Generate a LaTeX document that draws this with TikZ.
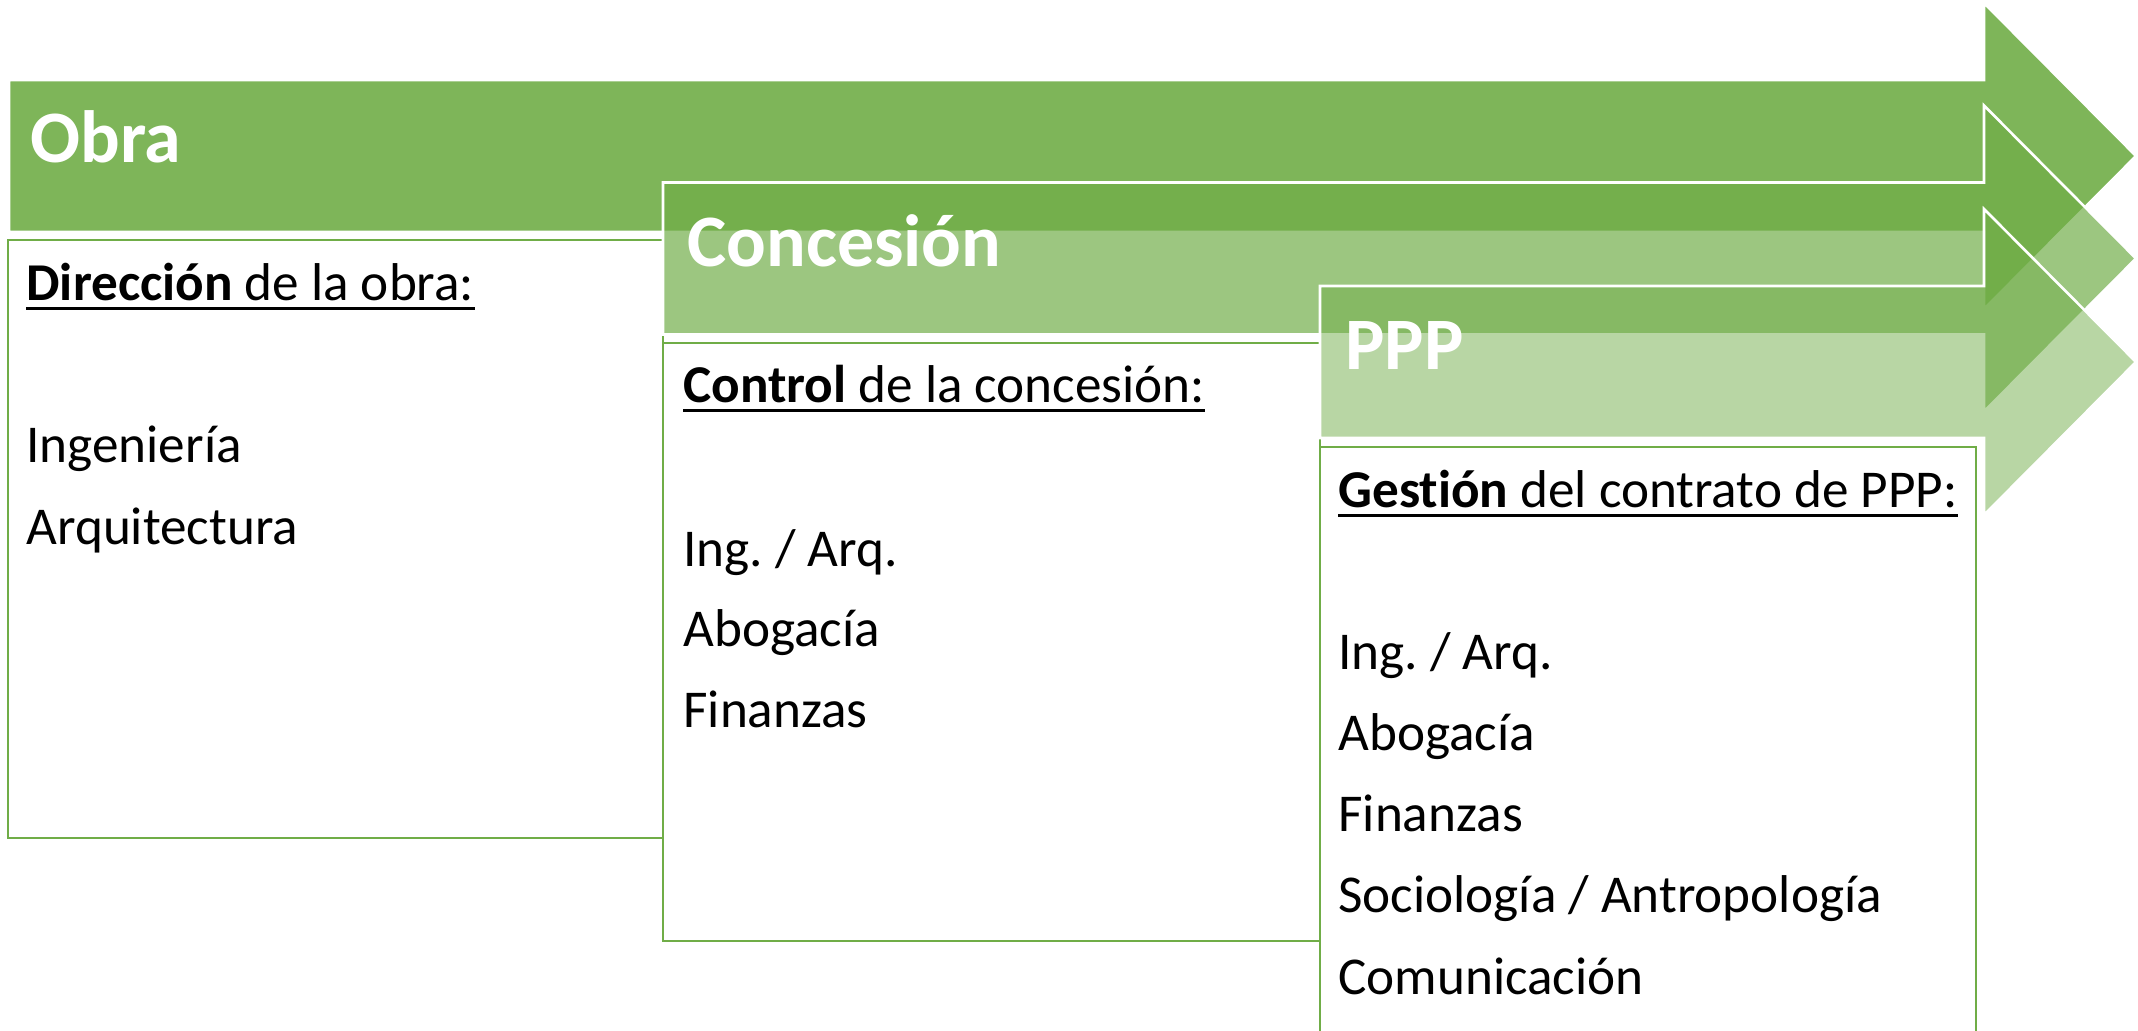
\documentclass[tikz,border=0pt]{standalone}
\usepackage{fontspec}
\setmainfont{Carlito}[Ligatures=NoCommon]
\definecolor{grn}{RGB}{112,173,71}
\newcommand\grarrow[3]{% left x, centre y, opacity
  \filldraw[fill=grn, fill opacity=#3, draw=white, line width=1.3pt, line join=miter]
    (#1,#2-76) -- (1984,#2-76) -- (1984,#2-153) -- (2136,#2) -- (1984,#2+153)
    -- (1984,#2+76) -- (#1,#2+76) -- cycle;}
\tikzset{
  boxframe/.style={draw=grn, fill=white, line width=1.2pt},
  headtxt/.style={anchor=base west, inner sep=0pt, text=white,
    font=\fontsize{37pt}{44pt}\selectfont\bfseries},
  bodytxt/.style={anchor=base west, inner sep=0pt, text=black,
    font=\fontsize{26.6pt}{31pt}\selectfont},
  uline/.style={line width=1.5pt, black}
}
\begin{document}
\frenchspacing
\begin{tikzpicture}[x=0.5pt, y=-0.5pt]
\clip (0,0) rectangle (2138,1031);
\fill[white] (0,0) rectangle (2138,1031);
% Obra
\grarrow{9}{156}{0.9}
\draw[boxframe] (8,240) rectangle (663,838);
% Concesion
\grarrow{663}{258.5}{0.69}
\draw[boxframe] (663,343) rectangle (1320,941);
% PPP
\grarrow{1320}{362}{0.49}
\draw[boxframe] (1320,447) rectangle (1976,1060);
% headers
\node[headtxt] (tObra) at (30,163) {Obra};
\node[headtxt] (tConc) at (687,267) {Concesión};
\node[headtxt] (tPPP) at (1345,370) {PPP};
% Obra box text
\node[bodytxt] (h1) at (26,301) {\textbf{Dirección} de la obra:};
\draw[uline] ([yshift=-4pt]h1.base west) -- ([yshift=-4pt]h1.base east);
\node[bodytxt] (o1) at (26,463) {Ingeniería};
\node[bodytxt] (o2) at (26,545) {Arquitectura};
% Concesion box text
\node[bodytxt] (h2) at (683,403) {\textbf{Control} de la concesión:};
\draw[uline] ([yshift=-4pt]h2.base west) -- ([yshift=-4pt]h2.base east);
\node[bodytxt] (c1) at (683,567) {Ing. / Arq.};
\node[bodytxt] (c2) at (683,647) {Abogacía};
\node[bodytxt] (c3) at (683,728) {Finanzas};
% PPP box text
\node[bodytxt] (h3) at (1338,508) {\textbf{Gestión} del contrato de PPP:};
\draw[uline] ([yshift=-4pt]h3.base west) -- ([yshift=-4pt]h3.base east);
\node[bodytxt] (p1) at (1338,670) {Ing. / Arq.};
\node[bodytxt] (p2) at (1338,751) {Abogacía};
\node[bodytxt] (p3) at (1338,832) {Finanzas};
\node[bodytxt] (p4) at (1338,913) {Sociología / Antropología};
\node[bodytxt] (p5) at (1338,994) {Comunicación};
\end{tikzpicture}
\end{document}
